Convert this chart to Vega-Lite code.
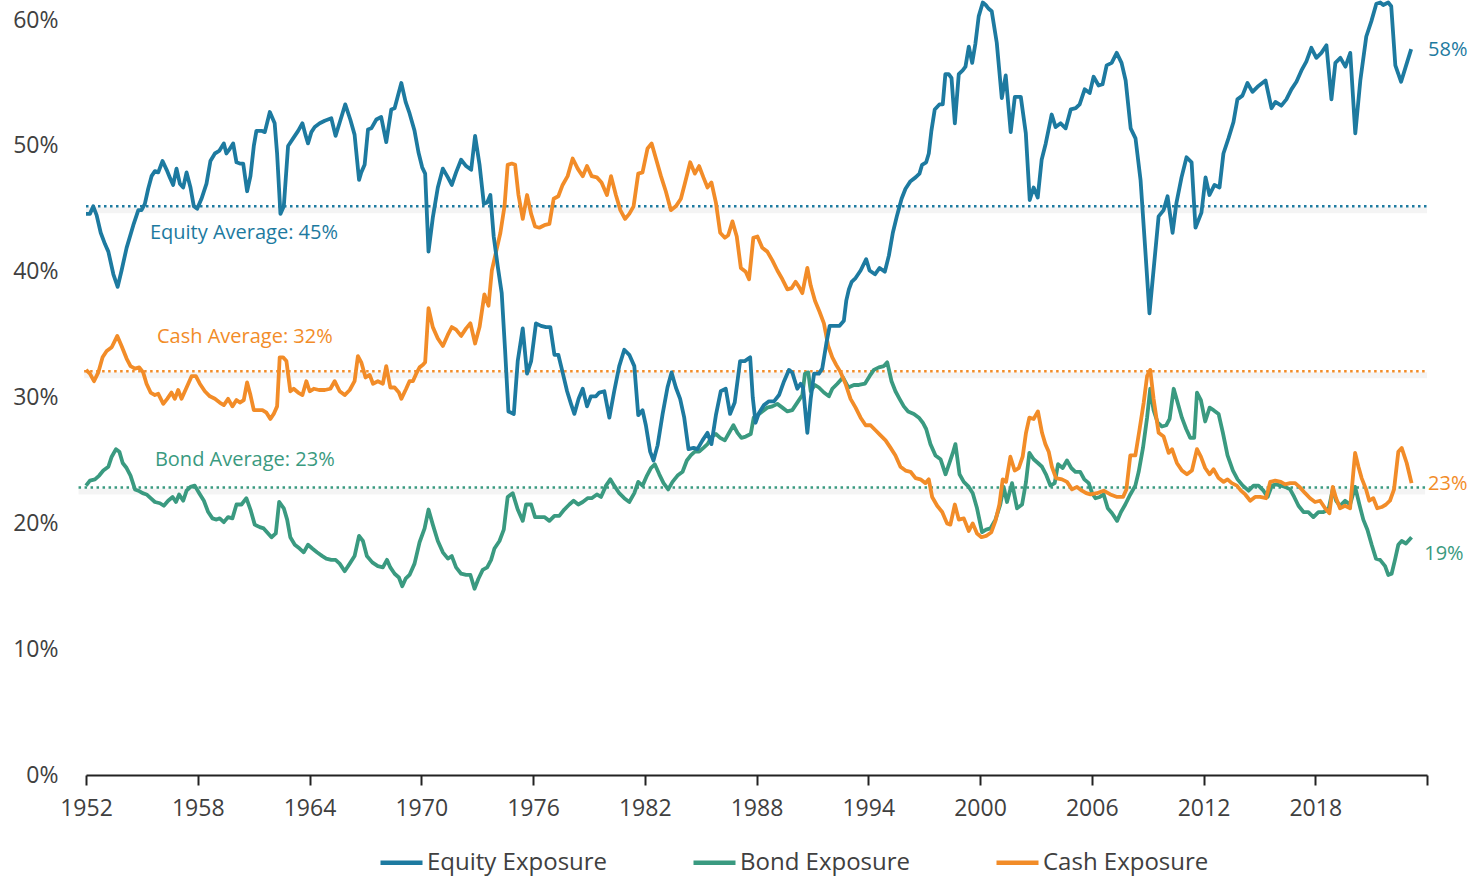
{
"$schema": "https://vega.github.io/schema/vega-lite/v6.json",
"width": 1341, "height": 775,
"autosize": {"type": "none"},
"padding": {"left": 86, "top": 0, "right": 57, "bottom": 104},
"background": "white",
"config": {"view": {"stroke": null}, "font": "Open Sans", "axis": {"grid": false}},
"datasets": {
"equity": [
{"year":1952.00,"pct":44.6},{"year":1952.21,"pct":44.6},{"year":1952.39,"pct":45.2},{"year":1952.57,"pct":44.5},{"year":1952.79,"pct":43.1},{"year":1953.02,"pct":42.2},{"year":1953.20,"pct":41.6},{"year":1953.47,"pct":39.8},{"year":1953.70,"pct":38.8},{"year":1953.91,"pct":40.1},{"year":1954.18,"pct":41.9},{"year":1954.54,"pct":43.7},{"year":1954.81,"pct":44.9},{"year":1954.98,"pct":44.9},{"year":1955.16,"pct":45.4},{"year":1955.34,"pct":46.6},{"year":1955.52,"pct":47.6},{"year":1955.70,"pct":48.0},{"year":1955.88,"pct":47.9},{"year":1956.11,"pct":48.8},{"year":1956.33,"pct":48.1},{"year":1956.50,"pct":47.5},{"year":1956.68,"pct":46.9},{"year":1956.86,"pct":48.2},{"year":1957.04,"pct":47.0},{"year":1957.22,"pct":46.7},{"year":1957.40,"pct":47.9},{"year":1957.61,"pct":46.7},{"year":1957.79,"pct":45.2},{"year":1957.97,"pct":45.0},{"year":1958.20,"pct":45.8},{"year":1958.47,"pct":47.0},{"year":1958.68,"pct":48.8},{"year":1958.92,"pct":49.4},{"year":1959.15,"pct":49.6},{"year":1959.40,"pct":50.2},{"year":1959.54,"pct":49.4},{"year":1959.69,"pct":49.7},{"year":1959.90,"pct":50.2},{"year":1960.08,"pct":48.7},{"year":1960.26,"pct":48.6},{"year":1960.44,"pct":48.6},{"year":1960.65,"pct":46.4},{"year":1960.83,"pct":47.6},{"year":1961.01,"pct":50.0},{"year":1961.15,"pct":51.2},{"year":1961.42,"pct":51.2},{"year":1961.60,"pct":51.1},{"year":1961.87,"pct":52.7},{"year":1962.13,"pct":51.8},{"year":1962.26,"pct":49.4},{"year":1962.44,"pct":44.6},{"year":1962.62,"pct":45.2},{"year":1962.85,"pct":50.0},{"year":1963.12,"pct":50.6},{"year":1963.39,"pct":51.2},{"year":1963.62,"pct":51.8},{"year":1963.78,"pct":50.9},{"year":1963.92,"pct":50.2},{"year":1964.10,"pct":51.1},{"year":1964.28,"pct":51.5},{"year":1964.55,"pct":51.8},{"year":1964.82,"pct":52.0},{"year":1965.17,"pct":52.2},{"year":1965.40,"pct":50.8},{"year":1965.65,"pct":52.0},{"year":1965.92,"pct":53.3},{"year":1966.19,"pct":52.1},{"year":1966.42,"pct":50.9},{"year":1966.66,"pct":47.3},{"year":1966.78,"pct":47.9},{"year":1966.96,"pct":48.5},{"year":1967.14,"pct":51.3},{"year":1967.32,"pct":51.4},{"year":1967.59,"pct":52.1},{"year":1967.85,"pct":52.3},{"year":1968.12,"pct":50.3},{"year":1968.39,"pct":52.9},{"year":1968.57,"pct":53.0},{"year":1968.93,"pct":55.0},{"year":1969.16,"pct":53.5},{"year":1969.37,"pct":52.6},{"year":1969.64,"pct":51.2},{"year":1969.85,"pct":49.5},{"year":1970.05,"pct":48.3},{"year":1970.21,"pct":47.8},{"year":1970.39,"pct":41.6},{"year":1970.62,"pct":44.3},{"year":1970.89,"pct":46.7},{"year":1971.16,"pct":48.2},{"year":1971.43,"pct":47.5},{"year":1971.64,"pct":46.9},{"year":1971.87,"pct":47.9},{"year":1972.14,"pct":48.9},{"year":1972.41,"pct":48.4},{"year":1972.68,"pct":48.1},{"year":1972.89,"pct":50.8},{"year":1973.13,"pct":48.5},{"year":1973.36,"pct":45.4},{"year":1973.54,"pct":45.5},{"year":1973.71,"pct":46.1},{"year":1973.89,"pct":42.8},{"year":1974.11,"pct":40.4},{"year":1974.32,"pct":38.3},{"year":1974.50,"pct":33.8},{"year":1974.68,"pct":28.9},{"year":1974.97,"pct":28.7},{"year":1975.18,"pct":32.9},{"year":1975.45,"pct":35.5},{"year":1975.68,"pct":31.9},{"year":1975.90,"pct":32.9},{"year":1976.16,"pct":35.9},{"year":1976.43,"pct":35.7},{"year":1976.70,"pct":35.6},{"year":1976.93,"pct":35.6},{"year":1977.15,"pct":33.4},{"year":1977.36,"pct":33.4},{"year":1977.59,"pct":32.0},{"year":1977.83,"pct":30.5},{"year":1978.04,"pct":29.5},{"year":1978.22,"pct":28.7},{"year":1978.45,"pct":29.9},{"year":1978.67,"pct":30.7},{"year":1978.90,"pct":29.3},{"year":1979.11,"pct":30.1},{"year":1979.38,"pct":30.1},{"year":1979.56,"pct":30.4},{"year":1979.83,"pct":30.5},{"year":1980.10,"pct":28.4},{"year":1980.36,"pct":30.5},{"year":1980.63,"pct":32.5},{"year":1980.90,"pct":33.8},{"year":1981.17,"pct":33.4},{"year":1981.44,"pct":32.5},{"year":1981.65,"pct":28.6},{"year":1981.88,"pct":29.0},{"year":1982.06,"pct":27.8},{"year":1982.29,"pct":25.7},{"year":1982.47,"pct":25.0},{"year":1982.69,"pct":26.2},{"year":1982.96,"pct":28.7},{"year":1983.22,"pct":30.8},{"year":1983.44,"pct":32.0},{"year":1983.67,"pct":30.8},{"year":1983.90,"pct":29.9},{"year":1984.12,"pct":28.4},{"year":1984.35,"pct":25.9},{"year":1984.62,"pct":26.0},{"year":1984.83,"pct":25.9},{"year":1985.10,"pct":26.6},{"year":1985.37,"pct":27.2},{"year":1985.58,"pct":26.3},{"year":1985.82,"pct":28.6},{"year":1986.08,"pct":30.5},{"year":1986.35,"pct":30.7},{"year":1986.58,"pct":28.7},{"year":1986.83,"pct":29.6},{"year":1987.12,"pct":32.9},{"year":1987.37,"pct":32.9},{"year":1987.66,"pct":33.2},{"year":1987.80,"pct":30.0},{"year":1987.95,"pct":28.0},{"year":1988.14,"pct":28.8},{"year":1988.40,"pct":29.4},{"year":1988.67,"pct":29.7},{"year":1988.94,"pct":29.7},{"year":1989.21,"pct":30.2},{"year":1989.48,"pct":31.3},{"year":1989.74,"pct":32.2},{"year":1989.92,"pct":32.0},{"year":1990.19,"pct":30.7},{"year":1990.37,"pct":31.1},{"year":1990.50,"pct":30.8},{"year":1990.73,"pct":27.2},{"year":1990.91,"pct":29.9},{"year":1991.09,"pct":31.9},{"year":1991.35,"pct":31.9},{"year":1991.53,"pct":32.3},{"year":1991.75,"pct":34.3},{"year":1991.93,"pct":35.7},{"year":1992.21,"pct":35.7},{"year":1992.46,"pct":35.7},{"year":1992.69,"pct":36.1},{"year":1992.82,"pct":37.7},{"year":1992.96,"pct":38.6},{"year":1993.11,"pct":39.2},{"year":1993.32,"pct":39.5},{"year":1993.59,"pct":40.1},{"year":1993.89,"pct":41.0},{"year":1994.07,"pct":40.1},{"year":1994.36,"pct":39.8},{"year":1994.61,"pct":40.3},{"year":1994.89,"pct":40.0},{"year":1995.11,"pct":41.3},{"year":1995.32,"pct":43.1},{"year":1995.55,"pct":44.5},{"year":1995.79,"pct":45.8},{"year":1996.00,"pct":46.6},{"year":1996.27,"pct":47.2},{"year":1996.54,"pct":47.5},{"year":1996.75,"pct":47.8},{"year":1996.89,"pct":48.5},{"year":1997.11,"pct":48.7},{"year":1997.25,"pct":49.4},{"year":1997.39,"pct":51.2},{"year":1997.57,"pct":52.9},{"year":1997.82,"pct":53.3},{"year":1998.00,"pct":53.3},{"year":1998.14,"pct":55.7},{"year":1998.32,"pct":55.7},{"year":1998.47,"pct":55.4},{"year":1998.65,"pct":51.8},{"year":1998.86,"pct":55.7},{"year":1999.07,"pct":56.0},{"year":1999.22,"pct":56.3},{"year":1999.40,"pct":57.9},{"year":1999.58,"pct":56.6},{"year":1999.75,"pct":58.1},{"year":1999.93,"pct":60.3},{"year":2000.15,"pct":61.4},{"year":2000.31,"pct":61.2},{"year":2000.47,"pct":60.9},{"year":2000.63,"pct":60.7},{"year":2000.90,"pct":58.2},{"year":2001.17,"pct":53.8},{"year":2001.38,"pct":55.6},{"year":2001.65,"pct":51.1},{"year":2001.87,"pct":53.9},{"year":2002.19,"pct":53.9},{"year":2002.46,"pct":51.0},{"year":2002.67,"pct":45.7},{"year":2002.88,"pct":46.7},{"year":2003.10,"pct":45.9},{"year":2003.31,"pct":48.9},{"year":2003.53,"pct":50.2},{"year":2003.85,"pct":52.5},{"year":2004.06,"pct":51.5},{"year":2004.33,"pct":51.8},{"year":2004.60,"pct":51.4},{"year":2004.87,"pct":52.9},{"year":2005.14,"pct":53.0},{"year":2005.35,"pct":53.3},{"year":2005.62,"pct":54.5},{"year":2005.89,"pct":54.2},{"year":2006.10,"pct":55.5},{"year":2006.37,"pct":54.8},{"year":2006.58,"pct":54.9},{"year":2006.80,"pct":56.4},{"year":2007.07,"pct":56.6},{"year":2007.34,"pct":57.4},{"year":2007.60,"pct":56.6},{"year":2007.82,"pct":55.2},{"year":2008.09,"pct":51.4},{"year":2008.35,"pct":50.6},{"year":2008.62,"pct":47.3},{"year":2008.84,"pct":42.5},{"year":2009.10,"pct":36.7},{"year":2009.59,"pct":44.4},{"year":2009.86,"pct":44.9},{"year":2010.07,"pct":46.0},{"year":2010.34,"pct":43.1},{"year":2010.55,"pct":45.5},{"year":2010.82,"pct":47.5},{"year":2011.09,"pct":49.1},{"year":2011.36,"pct":48.7},{"year":2011.57,"pct":43.5},{"year":2011.89,"pct":44.7},{"year":2012.11,"pct":47.5},{"year":2012.32,"pct":46.1},{"year":2012.59,"pct":46.9},{"year":2012.86,"pct":46.7},{"year":2013.07,"pct":49.4},{"year":2013.34,"pct":50.6},{"year":2013.61,"pct":51.9},{"year":2013.82,"pct":53.7},{"year":2014.09,"pct":54.0},{"year":2014.36,"pct":55.0},{"year":2014.63,"pct":54.3},{"year":2014.90,"pct":54.7},{"year":2015.33,"pct":55.2},{"year":2015.65,"pct":53.0},{"year":2015.86,"pct":53.5},{"year":2016.18,"pct":53.2},{"year":2016.45,"pct":53.7},{"year":2016.72,"pct":54.5},{"year":2016.99,"pct":55.1},{"year":2017.26,"pct":56.0},{"year":2017.52,"pct":56.7},{"year":2017.79,"pct":57.8},{"year":2018.06,"pct":57.0},{"year":2018.33,"pct":57.4},{"year":2018.60,"pct":58.0},{"year":2018.87,"pct":53.7},{"year":2019.08,"pct":56.6},{"year":2019.35,"pct":57.0},{"year":2019.62,"pct":56.3},{"year":2019.88,"pct":57.4},{"year":2020.15,"pct":51.0},{"year":2020.42,"pct":55.2},{"year":2020.74,"pct":58.7},{"year":2021.01,"pct":59.9},{"year":2021.28,"pct":61.3},{"year":2021.49,"pct":61.4},{"year":2021.65,"pct":61.2},{"year":2021.92,"pct":61.4},{"year":2022.08,"pct":61.1},{"year":2022.30,"pct":56.4},{"year":2022.61,"pct":55.1},{"year":2022.88,"pct":56.4},{"year":2023.15,"pct":57.7}
],
"cash": [
{"year":1952.00,"pct":32.2},{"year":1952.21,"pct":31.9},{"year":1952.43,"pct":31.3},{"year":1952.66,"pct":32.0},{"year":1952.89,"pct":33.2},{"year":1953.11,"pct":33.7},{"year":1953.38,"pct":34.0},{"year":1953.68,"pct":34.9},{"year":1953.91,"pct":34.1},{"year":1954.18,"pct":33.1},{"year":1954.39,"pct":32.5},{"year":1954.63,"pct":32.3},{"year":1954.86,"pct":32.4},{"year":1955.07,"pct":32.0},{"year":1955.25,"pct":31.1},{"year":1955.47,"pct":30.4},{"year":1955.70,"pct":30.2},{"year":1955.88,"pct":30.3},{"year":1956.15,"pct":29.5},{"year":1956.36,"pct":29.9},{"year":1956.59,"pct":30.4},{"year":1956.77,"pct":29.9},{"year":1956.95,"pct":30.6},{"year":1957.13,"pct":29.9},{"year":1957.40,"pct":30.8},{"year":1957.67,"pct":31.7},{"year":1957.90,"pct":31.7},{"year":1958.11,"pct":31.1},{"year":1958.38,"pct":30.5},{"year":1958.65,"pct":30.1},{"year":1958.92,"pct":29.9},{"year":1959.18,"pct":29.6},{"year":1959.40,"pct":29.4},{"year":1959.63,"pct":29.9},{"year":1959.86,"pct":29.3},{"year":1960.08,"pct":29.8},{"year":1960.26,"pct":29.6},{"year":1960.47,"pct":29.8},{"year":1960.65,"pct":31.2},{"year":1960.83,"pct":30.2},{"year":1961.01,"pct":29.0},{"year":1961.24,"pct":29.0},{"year":1961.47,"pct":29.0},{"year":1961.69,"pct":28.8},{"year":1961.90,"pct":28.3},{"year":1962.08,"pct":28.7},{"year":1962.26,"pct":29.3},{"year":1962.40,"pct":33.2},{"year":1962.58,"pct":33.2},{"year":1962.76,"pct":32.9},{"year":1962.97,"pct":30.5},{"year":1963.15,"pct":30.7},{"year":1963.39,"pct":30.4},{"year":1963.62,"pct":30.2},{"year":1963.83,"pct":31.3},{"year":1964.01,"pct":30.5},{"year":1964.23,"pct":30.7},{"year":1964.51,"pct":30.6},{"year":1964.82,"pct":30.6},{"year":1965.12,"pct":30.7},{"year":1965.35,"pct":31.3},{"year":1965.62,"pct":30.5},{"year":1965.89,"pct":30.2},{"year":1966.16,"pct":30.6},{"year":1966.42,"pct":31.3},{"year":1966.60,"pct":33.3},{"year":1966.78,"pct":32.8},{"year":1967.01,"pct":31.6},{"year":1967.23,"pct":31.8},{"year":1967.41,"pct":31.1},{"year":1967.67,"pct":31.3},{"year":1967.94,"pct":31.1},{"year":1968.12,"pct":32.5},{"year":1968.34,"pct":30.8},{"year":1968.57,"pct":30.8},{"year":1968.80,"pct":30.4},{"year":1968.93,"pct":29.9},{"year":1969.19,"pct":30.7},{"year":1969.37,"pct":31.3},{"year":1969.55,"pct":31.3},{"year":1969.73,"pct":31.9},{"year":1969.91,"pct":32.4},{"year":1970.09,"pct":32.6},{"year":1970.21,"pct":32.8},{"year":1970.39,"pct":37.1},{"year":1970.62,"pct":35.6},{"year":1970.89,"pct":34.7},{"year":1971.16,"pct":34.1},{"year":1971.43,"pct":35.0},{"year":1971.64,"pct":35.6},{"year":1971.87,"pct":35.4},{"year":1972.14,"pct":34.9},{"year":1972.41,"pct":35.5},{"year":1972.64,"pct":35.9},{"year":1972.89,"pct":34.3},{"year":1973.13,"pct":35.6},{"year":1973.39,"pct":38.2},{"year":1973.61,"pct":37.3},{"year":1973.79,"pct":40.1},{"year":1974.02,"pct":41.6},{"year":1974.25,"pct":43.1},{"year":1974.47,"pct":45.2},{"year":1974.64,"pct":48.5},{"year":1974.86,"pct":48.6},{"year":1975.04,"pct":48.5},{"year":1975.22,"pct":46.1},{"year":1975.45,"pct":44.2},{"year":1975.68,"pct":46.1},{"year":1975.90,"pct":44.6},{"year":1976.11,"pct":43.6},{"year":1976.34,"pct":43.5},{"year":1976.61,"pct":43.7},{"year":1976.88,"pct":43.8},{"year":1977.11,"pct":45.8},{"year":1977.36,"pct":46.0},{"year":1977.59,"pct":46.9},{"year":1977.86,"pct":47.6},{"year":1978.13,"pct":49.0},{"year":1978.40,"pct":48.2},{"year":1978.67,"pct":47.6},{"year":1978.90,"pct":48.4},{"year":1979.15,"pct":47.6},{"year":1979.43,"pct":47.5},{"year":1979.68,"pct":47.1},{"year":1979.97,"pct":46.1},{"year":1980.19,"pct":47.6},{"year":1980.45,"pct":46.1},{"year":1980.69,"pct":44.9},{"year":1980.94,"pct":44.2},{"year":1981.17,"pct":44.6},{"year":1981.40,"pct":45.2},{"year":1981.65,"pct":47.8},{"year":1981.88,"pct":47.9},{"year":1982.15,"pct":49.8},{"year":1982.37,"pct":50.2},{"year":1982.60,"pct":49.0},{"year":1982.87,"pct":47.6},{"year":1983.13,"pct":46.4},{"year":1983.40,"pct":44.9},{"year":1983.67,"pct":45.2},{"year":1983.94,"pct":45.8},{"year":1984.15,"pct":47.0},{"year":1984.44,"pct":48.7},{"year":1984.69,"pct":47.8},{"year":1984.92,"pct":48.4},{"year":1985.15,"pct":47.5},{"year":1985.37,"pct":46.7},{"year":1985.58,"pct":47.1},{"year":1985.82,"pct":45.5},{"year":1986.05,"pct":43.1},{"year":1986.30,"pct":42.7},{"year":1986.48,"pct":42.9},{"year":1986.71,"pct":44.0},{"year":1986.94,"pct":42.8},{"year":1987.16,"pct":40.3},{"year":1987.42,"pct":40.0},{"year":1987.60,"pct":39.4},{"year":1987.83,"pct":42.7},{"year":1988.05,"pct":42.8},{"year":1988.31,"pct":41.9},{"year":1988.58,"pct":41.6},{"year":1988.85,"pct":40.9},{"year":1989.12,"pct":40.1},{"year":1989.39,"pct":39.4},{"year":1989.66,"pct":38.6},{"year":1989.89,"pct":38.7},{"year":1990.10,"pct":39.2},{"year":1990.28,"pct":38.8},{"year":1990.46,"pct":38.3},{"year":1990.73,"pct":40.3},{"year":1990.91,"pct":38.9},{"year":1991.14,"pct":37.7},{"year":1991.39,"pct":36.8},{"year":1991.62,"pct":35.9},{"year":1991.85,"pct":34.1},{"year":1992.07,"pct":33.2},{"year":1992.28,"pct":32.6},{"year":1992.52,"pct":32.0},{"year":1992.78,"pct":31.1},{"year":1993.05,"pct":29.9},{"year":1993.32,"pct":29.2},{"year":1993.59,"pct":28.4},{"year":1993.86,"pct":27.8},{"year":1994.12,"pct":27.8},{"year":1994.39,"pct":27.4},{"year":1994.66,"pct":27.0},{"year":1994.93,"pct":26.6},{"year":1995.20,"pct":26.0},{"year":1995.46,"pct":25.4},{"year":1995.73,"pct":24.5},{"year":1996.00,"pct":24.2},{"year":1996.27,"pct":24.1},{"year":1996.54,"pct":23.6},{"year":1996.80,"pct":23.5},{"year":1997.07,"pct":23.2},{"year":1997.25,"pct":23.5},{"year":1997.43,"pct":22.1},{"year":1997.70,"pct":21.4},{"year":1997.97,"pct":20.9},{"year":1998.23,"pct":20.0},{"year":1998.41,"pct":19.9},{"year":1998.65,"pct":21.5},{"year":1998.86,"pct":20.3},{"year":1999.13,"pct":20.4},{"year":1999.40,"pct":19.4},{"year":1999.61,"pct":20.0},{"year":1999.84,"pct":19.2},{"year":2000.08,"pct":18.9},{"year":2000.33,"pct":19.0},{"year":2000.61,"pct":19.3},{"year":2000.83,"pct":20.2},{"year":2001.04,"pct":21.5},{"year":2001.22,"pct":23.5},{"year":2001.40,"pct":23.3},{"year":2001.63,"pct":25.3},{"year":2001.86,"pct":24.2},{"year":2002.08,"pct":24.4},{"year":2002.29,"pct":25.3},{"year":2002.47,"pct":27.2},{"year":2002.65,"pct":28.4},{"year":2002.88,"pct":28.3},{"year":2003.11,"pct":28.9},{"year":2003.33,"pct":27.2},{"year":2003.51,"pct":26.3},{"year":2003.69,"pct":25.7},{"year":2003.86,"pct":24.5},{"year":2004.08,"pct":23.6},{"year":2004.40,"pct":23.5},{"year":2004.67,"pct":23.3},{"year":2004.94,"pct":22.7},{"year":2005.21,"pct":22.9},{"year":2005.47,"pct":22.6},{"year":2005.70,"pct":22.4},{"year":2005.93,"pct":22.3},{"year":2006.28,"pct":22.4},{"year":2006.64,"pct":22.6},{"year":2007.00,"pct":22.3},{"year":2007.36,"pct":22.1},{"year":2007.68,"pct":22.1},{"year":2007.86,"pct":22.7},{"year":2008.07,"pct":25.4},{"year":2008.34,"pct":25.4},{"year":2008.57,"pct":27.5},{"year":2008.79,"pct":29.6},{"year":2008.97,"pct":31.7},{"year":2009.14,"pct":32.2},{"year":2009.32,"pct":29.9},{"year":2009.59,"pct":27.2},{"year":2009.86,"pct":26.9},{"year":2010.13,"pct":25.6},{"year":2010.31,"pct":25.9},{"year":2010.57,"pct":24.8},{"year":2010.84,"pct":24.2},{"year":2011.11,"pct":23.9},{"year":2011.38,"pct":24.2},{"year":2011.65,"pct":25.9},{"year":2011.86,"pct":25.3},{"year":2012.09,"pct":24.4},{"year":2012.33,"pct":23.9},{"year":2012.54,"pct":24.3},{"year":2012.81,"pct":23.6},{"year":2013.08,"pct":23.3},{"year":2013.29,"pct":23.5},{"year":2013.52,"pct":23.2},{"year":2013.79,"pct":23.0},{"year":2014.01,"pct":22.6},{"year":2014.24,"pct":22.3},{"year":2014.51,"pct":21.8},{"year":2014.77,"pct":22.1},{"year":2015.04,"pct":22.1},{"year":2015.36,"pct":22.0},{"year":2015.58,"pct":23.3},{"year":2015.85,"pct":23.4},{"year":2016.15,"pct":23.3},{"year":2016.38,"pct":23.1},{"year":2016.65,"pct":23.2},{"year":2016.92,"pct":23.2},{"year":2017.15,"pct":22.9},{"year":2017.46,"pct":22.4},{"year":2017.72,"pct":22.0},{"year":2017.99,"pct":21.7},{"year":2018.26,"pct":21.8},{"year":2018.53,"pct":21.2},{"year":2018.76,"pct":20.8},{"year":2018.94,"pct":22.9},{"year":2019.12,"pct":22.0},{"year":2019.33,"pct":21.2},{"year":2019.60,"pct":21.4},{"year":2019.87,"pct":21.2},{"year":2020.14,"pct":25.6},{"year":2020.32,"pct":24.5},{"year":2020.49,"pct":23.6},{"year":2020.73,"pct":22.7},{"year":2020.90,"pct":21.8},{"year":2021.12,"pct":22.0},{"year":2021.33,"pct":21.2},{"year":2021.57,"pct":21.3},{"year":2021.80,"pct":21.5},{"year":2022.01,"pct":21.8},{"year":2022.23,"pct":22.7},{"year":2022.46,"pct":25.7},{"year":2022.64,"pct":26.0},{"year":2022.91,"pct":24.8},{"year":2023.17,"pct":23.2}
],
"bond": [
{"year":1952.00,"pct":23.0},{"year":1952.21,"pct":23.4},{"year":1952.48,"pct":23.5},{"year":1952.71,"pct":23.8},{"year":1952.93,"pct":24.2},{"year":1953.20,"pct":24.5},{"year":1953.38,"pct":25.3},{"year":1953.61,"pct":25.9},{"year":1953.79,"pct":25.7},{"year":1953.97,"pct":24.8},{"year":1954.18,"pct":24.4},{"year":1954.39,"pct":23.8},{"year":1954.63,"pct":22.7},{"year":1954.81,"pct":22.6},{"year":1955.04,"pct":22.4},{"year":1955.25,"pct":22.3},{"year":1955.47,"pct":22.0},{"year":1955.70,"pct":21.7},{"year":1955.97,"pct":21.6},{"year":1956.18,"pct":21.4},{"year":1956.41,"pct":21.8},{"year":1956.65,"pct":22.1},{"year":1956.83,"pct":21.7},{"year":1957.00,"pct":22.3},{"year":1957.22,"pct":21.8},{"year":1957.40,"pct":22.6},{"year":1957.61,"pct":22.9},{"year":1957.84,"pct":23.0},{"year":1958.08,"pct":22.4},{"year":1958.33,"pct":21.8},{"year":1958.56,"pct":20.9},{"year":1958.79,"pct":20.4},{"year":1959.01,"pct":20.3},{"year":1959.18,"pct":20.4},{"year":1959.40,"pct":20.1},{"year":1959.63,"pct":20.5},{"year":1959.86,"pct":20.4},{"year":1960.08,"pct":21.5},{"year":1960.35,"pct":21.5},{"year":1960.61,"pct":22.0},{"year":1960.83,"pct":21.1},{"year":1961.06,"pct":19.9},{"year":1961.33,"pct":19.7},{"year":1961.54,"pct":19.6},{"year":1961.78,"pct":19.2},{"year":1961.96,"pct":18.9},{"year":1962.19,"pct":19.2},{"year":1962.37,"pct":21.7},{"year":1962.62,"pct":21.2},{"year":1962.80,"pct":20.3},{"year":1962.97,"pct":18.9},{"year":1963.21,"pct":18.3},{"year":1963.47,"pct":18.0},{"year":1963.69,"pct":17.7},{"year":1963.92,"pct":18.3},{"year":1964.15,"pct":18.0},{"year":1964.40,"pct":17.7},{"year":1964.69,"pct":17.4},{"year":1964.90,"pct":17.2},{"year":1965.17,"pct":17.1},{"year":1965.40,"pct":17.1},{"year":1965.62,"pct":16.8},{"year":1965.89,"pct":16.2},{"year":1966.16,"pct":16.8},{"year":1966.42,"pct":17.4},{"year":1966.66,"pct":19.0},{"year":1966.87,"pct":18.6},{"year":1967.08,"pct":17.4},{"year":1967.37,"pct":16.9},{"year":1967.67,"pct":16.6},{"year":1967.94,"pct":16.5},{"year":1968.16,"pct":17.1},{"year":1968.34,"pct":16.5},{"year":1968.57,"pct":16.0},{"year":1968.80,"pct":15.7},{"year":1968.98,"pct":15.0},{"year":1969.16,"pct":15.6},{"year":1969.37,"pct":15.9},{"year":1969.64,"pct":16.8},{"year":1969.91,"pct":18.5},{"year":1970.18,"pct":19.6},{"year":1970.39,"pct":21.1},{"year":1970.62,"pct":19.9},{"year":1970.89,"pct":18.6},{"year":1971.16,"pct":17.7},{"year":1971.43,"pct":17.2},{"year":1971.64,"pct":17.4},{"year":1971.87,"pct":16.5},{"year":1972.14,"pct":16.0},{"year":1972.41,"pct":15.9},{"year":1972.64,"pct":15.9},{"year":1972.86,"pct":14.8},{"year":1973.07,"pct":15.6},{"year":1973.30,"pct":16.3},{"year":1973.54,"pct":16.5},{"year":1973.75,"pct":17.1},{"year":1973.93,"pct":18.0},{"year":1974.20,"pct":18.6},{"year":1974.43,"pct":19.5},{"year":1974.64,"pct":22.1},{"year":1974.91,"pct":22.4},{"year":1975.18,"pct":21.1},{"year":1975.45,"pct":20.2},{"year":1975.63,"pct":21.5},{"year":1975.90,"pct":21.5},{"year":1976.11,"pct":20.5},{"year":1976.34,"pct":20.5},{"year":1976.61,"pct":20.5},{"year":1976.88,"pct":20.2},{"year":1977.15,"pct":20.6},{"year":1977.41,"pct":20.6},{"year":1977.68,"pct":21.1},{"year":1977.95,"pct":21.5},{"year":1978.18,"pct":21.8},{"year":1978.43,"pct":21.5},{"year":1978.67,"pct":21.7},{"year":1978.93,"pct":22.0},{"year":1979.15,"pct":22.0},{"year":1979.43,"pct":22.3},{"year":1979.65,"pct":22.1},{"year":1979.92,"pct":23.0},{"year":1980.15,"pct":23.5},{"year":1980.36,"pct":23.0},{"year":1980.63,"pct":22.4},{"year":1980.90,"pct":22.0},{"year":1981.17,"pct":21.7},{"year":1981.44,"pct":22.4},{"year":1981.65,"pct":23.3},{"year":1981.88,"pct":23.0},{"year":1982.12,"pct":23.8},{"year":1982.33,"pct":24.4},{"year":1982.54,"pct":24.7},{"year":1982.78,"pct":23.9},{"year":1983.01,"pct":23.2},{"year":1983.26,"pct":22.7},{"year":1983.49,"pct":23.3},{"year":1983.76,"pct":23.8},{"year":1984.03,"pct":24.1},{"year":1984.26,"pct":25.0},{"year":1984.47,"pct":25.4},{"year":1984.69,"pct":25.7},{"year":1984.92,"pct":25.7},{"year":1985.15,"pct":26.0},{"year":1985.37,"pct":26.3},{"year":1985.60,"pct":26.9},{"year":1985.82,"pct":27.1},{"year":1986.05,"pct":26.8},{"year":1986.30,"pct":26.6},{"year":1986.53,"pct":27.2},{"year":1986.76,"pct":27.8},{"year":1986.98,"pct":27.2},{"year":1987.19,"pct":26.8},{"year":1987.42,"pct":26.9},{"year":1987.69,"pct":27.1},{"year":1987.85,"pct":28.4},{"year":1988.05,"pct":28.6},{"year":1988.31,"pct":28.9},{"year":1988.58,"pct":29.2},{"year":1988.85,"pct":29.3},{"year":1989.12,"pct":29.5},{"year":1989.39,"pct":29.2},{"year":1989.66,"pct":28.9},{"year":1989.92,"pct":29.0},{"year":1990.19,"pct":29.6},{"year":1990.46,"pct":30.2},{"year":1990.60,"pct":31.9},{"year":1990.78,"pct":32.0},{"year":1990.91,"pct":30.5},{"year":1991.14,"pct":31.0},{"year":1991.35,"pct":30.8},{"year":1991.62,"pct":30.4},{"year":1991.89,"pct":30.1},{"year":1992.07,"pct":30.7},{"year":1992.34,"pct":31.1},{"year":1992.64,"pct":31.6},{"year":1992.93,"pct":30.8},{"year":1993.23,"pct":31.0},{"year":1993.50,"pct":31.0},{"year":1993.82,"pct":31.1},{"year":1994.07,"pct":31.7},{"year":1994.30,"pct":32.2},{"year":1994.57,"pct":32.4},{"year":1994.84,"pct":32.5},{"year":1995.02,"pct":32.8},{"year":1995.25,"pct":31.3},{"year":1995.46,"pct":30.5},{"year":1995.68,"pct":29.9},{"year":1995.91,"pct":29.3},{"year":1996.14,"pct":28.9},{"year":1996.45,"pct":28.7},{"year":1996.72,"pct":28.4},{"year":1996.93,"pct":28.0},{"year":1997.11,"pct":27.5},{"year":1997.34,"pct":26.3},{"year":1997.61,"pct":25.4},{"year":1997.88,"pct":25.1},{"year":1998.15,"pct":23.9},{"year":1998.36,"pct":24.8},{"year":1998.54,"pct":25.6},{"year":1998.68,"pct":26.3},{"year":1998.90,"pct":23.9},{"year":1999.13,"pct":23.3},{"year":1999.40,"pct":22.9},{"year":1999.61,"pct":22.4},{"year":1999.84,"pct":21.2},{"year":2000.11,"pct":19.3},{"year":2000.33,"pct":19.5},{"year":2000.56,"pct":19.6},{"year":2000.83,"pct":20.3},{"year":2001.09,"pct":21.5},{"year":2001.27,"pct":22.9},{"year":2001.45,"pct":21.7},{"year":2001.72,"pct":23.2},{"year":2001.99,"pct":21.2},{"year":2002.26,"pct":21.5},{"year":2002.47,"pct":23.3},{"year":2002.65,"pct":25.6},{"year":2002.88,"pct":25.1},{"year":2003.11,"pct":24.8},{"year":2003.33,"pct":24.5},{"year":2003.54,"pct":23.9},{"year":2003.78,"pct":23.0},{"year":2004.01,"pct":23.2},{"year":2004.19,"pct":24.7},{"year":2004.44,"pct":24.4},{"year":2004.67,"pct":25.0},{"year":2004.90,"pct":24.4},{"year":2005.12,"pct":24.1},{"year":2005.38,"pct":24.1},{"year":2005.60,"pct":23.5},{"year":2005.84,"pct":23.2},{"year":2006.02,"pct":22.4},{"year":2006.20,"pct":22.0},{"year":2006.43,"pct":22.1},{"year":2006.64,"pct":22.3},{"year":2006.86,"pct":21.2},{"year":2007.09,"pct":20.8},{"year":2007.36,"pct":20.2},{"year":2007.57,"pct":20.9},{"year":2007.80,"pct":21.5},{"year":2008.07,"pct":22.3},{"year":2008.34,"pct":23.0},{"year":2008.52,"pct":24.1},{"year":2008.75,"pct":26.0},{"year":2008.97,"pct":28.4},{"year":2009.14,"pct":30.7},{"year":2009.32,"pct":29.0},{"year":2009.54,"pct":28.0},{"year":2009.77,"pct":27.7},{"year":2010.00,"pct":27.8},{"year":2010.18,"pct":28.3},{"year":2010.40,"pct":30.7},{"year":2010.61,"pct":29.6},{"year":2010.84,"pct":28.4},{"year":2011.07,"pct":27.5},{"year":2011.29,"pct":26.8},{"year":2011.50,"pct":26.8},{"year":2011.65,"pct":30.4},{"year":2011.86,"pct":29.8},{"year":2012.09,"pct":28.1},{"year":2012.33,"pct":29.2},{"year":2012.54,"pct":29.0},{"year":2012.81,"pct":28.7},{"year":2013.04,"pct":27.2},{"year":2013.29,"pct":25.4},{"year":2013.58,"pct":24.2},{"year":2013.83,"pct":23.5},{"year":2014.11,"pct":23.0},{"year":2014.42,"pct":22.6},{"year":2014.69,"pct":23.0},{"year":2014.95,"pct":23.0},{"year":2015.22,"pct":22.6},{"year":2015.44,"pct":22.1},{"year":2015.67,"pct":23.0},{"year":2015.90,"pct":23.1},{"year":2016.15,"pct":23.0},{"year":2016.38,"pct":22.9},{"year":2016.65,"pct":22.7},{"year":2016.87,"pct":22.1},{"year":2017.10,"pct":21.4},{"year":2017.37,"pct":20.9},{"year":2017.63,"pct":20.9},{"year":2017.90,"pct":20.5},{"year":2018.17,"pct":20.9},{"year":2018.44,"pct":20.9},{"year":2018.71,"pct":21.1},{"year":2018.94,"pct":22.7},{"year":2019.12,"pct":21.8},{"year":2019.33,"pct":21.4},{"year":2019.60,"pct":21.8},{"year":2019.87,"pct":21.5},{"year":2020.14,"pct":22.9},{"year":2020.37,"pct":21.5},{"year":2020.58,"pct":20.3},{"year":2020.80,"pct":19.5},{"year":2021.03,"pct":18.3},{"year":2021.26,"pct":17.2},{"year":2021.48,"pct":17.1},{"year":2021.75,"pct":16.6},{"year":2021.92,"pct":15.9},{"year":2022.10,"pct":16.0},{"year":2022.28,"pct":17.1},{"year":2022.46,"pct":18.3},{"year":2022.64,"pct":18.6},{"year":2022.87,"pct":18.4},{"year":2023.17,"pct":18.9}
],
"averages": [
{"series":"Equity Exposure","start":1952,"end":2024,"pct":45.2},
{"series":"Cash Exposure","start":1951.9,"end":2024,"pct":32.1},
{"series":"Bond Exposure","start":1951.6,"end":2023.9,"pct":22.85}
],
"labels": [
{"series":"Equity Exposure","text":"Equity Average: 45%","year":1955.43,"pct":43.1},
{"series":"Cash Exposure","text":"Cash Average: 32%","year":1955.81,"pct":34.8},
{"series":"Bond Exposure","text":"Bond Average: 23%","year":1955.7,"pct":25.0},
{"series":"Equity Exposure","text":"58%","year":2024.06,"pct":57.6},
{"series":"Cash Exposure","text":"23%","year":2024.06,"pct":23.1},
{"series":"Bond Exposure","text":"19%","year":2023.85,"pct":17.6}
]
},
"layer": [
{
"data": {"name": "averages"},
"mark": {"type": "rule", "color": "#000000", "opacity": 0.045, "strokeWidth": 6, "yOffset": 4},
"encoding": {
"x": {"field": "start", "type": "quantitative", "scale": {"domain": [1952, 2024], "nice": false, "zero": false},
"axis": {"values": [1952,1958,1964,1970,1976,1982,1988,1994,2000,2006,2012,2018,2024], "labelExpr": "datum.value == 2024 ? '' : datum.value", "title": null, "domainColor": "#222222", "domainWidth": 2, "tickColor": "#222222", "tickWidth": 2, "tickSize": 10, "labelPadding": 12, "labelFontSize": 23, "labelColor": "#404040", "labelFlush": false}},
"x2": {"field": "end"},
"y": {"field": "pct", "type": "quantitative", "scale": {"domain": [0, 61.6], "nice": false, "zero": true},
"axis": {"values": [0,10,20,30,40,50,60], "labelExpr": "datum.value + '%'", "title": null, "domain": false, "ticks": false, "labelPadding": 28, "labelFontSize": 23, "labelColor": "#404040"}}
}
},
{
"data": {"name": "averages"},
"mark": {"type": "rule", "strokeWidth": 2.5, "strokeDash": [2.5, 3.5]},
"encoding": {
"x": {"field": "start", "type": "quantitative"},
"x2": {"field": "end"},
"y": {"field": "pct", "type": "quantitative"},
"color": {"field": "series", "type": "nominal",
"scale": {"domain": ["Equity Exposure", "Bond Exposure", "Cash Exposure"], "range": ["#1d7aa0", "#3a9a80", "#f28c28"]},
"legend": {"orient": "none", "legendX": 292, "legendY": 839, "direction": "horizontal", "title": null, "symbolType": "stroke", "symbolSize": 1764, "symbolStrokeWidth": 4.5, "labelFontSize": 24, "labelColor": "#404040", "labelLimit": 400, "columnPadding": 76, "labelOffset": 2, "padding": 0}}
}
},
{
"data": {"name": "bond"},
"mark": {"type": "line", "strokeWidth": 3.8, "strokeJoin": "round"},
"encoding": {
"x": {"field": "year", "type": "quantitative"},
"y": {"field": "pct", "type": "quantitative"},
"color": {"datum": "Bond Exposure", "type": "nominal"}
}
},
{
"data": {"name": "cash"},
"mark": {"type": "line", "strokeWidth": 3.8, "strokeJoin": "round"},
"encoding": {
"x": {"field": "year", "type": "quantitative"},
"y": {"field": "pct", "type": "quantitative"},
"color": {"datum": "Cash Exposure", "type": "nominal"}
}
},
{
"data": {"name": "equity"},
"mark": {"type": "line", "strokeWidth": 3.8, "strokeJoin": "round"},
"encoding": {
"x": {"field": "year", "type": "quantitative"},
"y": {"field": "pct", "type": "quantitative"},
"color": {"datum": "Equity Exposure", "type": "nominal"}
}
},
{
"data": {"name": "labels"},
"mark": {"type": "text", "align": "left", "baseline": "middle", "fontSize": 20},
"encoding": {
"x": {"field": "year", "type": "quantitative"},
"y": {"field": "pct", "type": "quantitative"},
"text": {"field": "text"},
"color": {"field": "series", "type": "nominal"}
}
}
]
}
